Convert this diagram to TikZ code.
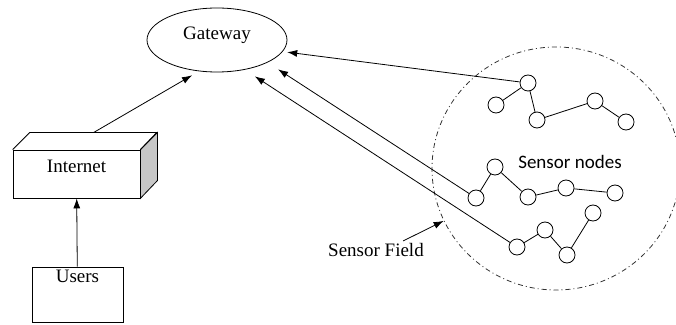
\documentclass[tikz,border=0pt]{standalone}
\usepackage{fontspec}
\setmainfont{Liberation Serif}
\newfontfamily\labelsans{Carlito}
\usetikzlibrary{shapes,arrows.meta}

\begin{document}
\begin{tikzpicture}[
		x=1pt,y=1pt,line width=0.8pt,
		font=\fontsize{19}{22}\selectfont,
		box/.style={
			draw,rectangle,inner sep=0pt,
		},
		sensor/.style={
			circle,draw,fill=white,minimum size=16pt,inner sep=0pt,
		},
		link/.style={
			-{Latex[length=10pt,width=7pt]},
		},
		field/.style={
			ellipse,draw=black!80,dash pattern=on 5pt off 3pt on 1pt off 3pt,
			minimum width=248pt,minimum height=243pt,
		},
	]

	\useasboundingbox (0,0) rectangle (676,324);

	% sensor field
	\node[field] (field) at (556,155.5) {};

	% gateway, internet and users
	\node[ellipse,draw,minimum width=140pt,minimum height=64pt,inner sep=0pt,
		text height=13pt,text depth=14pt] (gateway) at (217,284) {Gateway};
	\node[box,minimum width=127pt,text height=23pt,text depth=25pt] (internet) at (76.5,150) {Internet};
	\node[box,minimum width=91pt,text height=15pt,text depth=40pt] (users) at (77.5,29.5) {Users};

	% 3d look of the internet box
	\draw[fill=black!22] (internet.north east) -- ++(17,17) -- ++(0,-48) -- (internet.south east) -- cycle;
	\draw (internet.north west) -- ++(17,17) -- ++(127,0) -- (internet.north east);
	\coordinate (inet top) at ([shift={(17,17)}]internet.north);

	% sensor nodes
	\foreach \n/\x/\y in {a1/528/241,a2/496/219,a3/537/204,a4/595/223,a5/626/202,
		b1/476/126,b2/495/157,b3/528/127,b4/566/136,b5/615/131,
		c1/517/77,c2/545/94,c3/567/69,c4/593/111}
	\node[sensor] (\n) at (\x,\y) {};

	\foreach \a/\b in {a2/a1,a1/a3,a3/a4,a4/a5,b1/b2,b2/b3,b3/b4,b4/b5,c1/c2,c2/c3,c3/c4}
	\draw (\a) -- (\b);

	\node[font=\labelsans\fontsize{19}{22}\selectfont] (nodes label) at (570,162) {Sensor nodes};
	\node[inner sep=2pt] (field label) at (376,74) {Sensor Field};

	% connections
	\draw[link] (users) -- (internet);
	\draw[link,shorten >=8pt] (inet top) -- (gateway.240);
	\draw[link,shorten >=4.5pt] (a1) -- (gateway.350);
	\draw[link,shorten >=12.5pt] (b1) -- (gateway.336);
	\draw[link,shorten >=12pt] (c1) -- (gateway.313);
	\draw[link] ([xshift=-23pt]field label.north east) -- (field.205);

\end{tikzpicture}
\end{document}
